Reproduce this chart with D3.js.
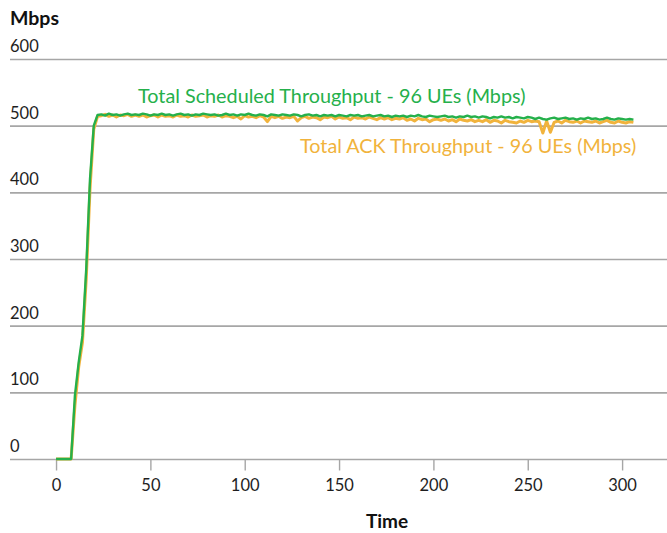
<!DOCTYPE html>
<html>
<head>
<meta charset="utf-8">
<script src="https://cdn.jsdelivr.net/npm/d3@7"></script>
<style>
  html, body { margin: 0; padding: 0; background: #fff; }
  svg { display: block; font-family: Lato, "Open Sans", sans-serif; }
</style>
</head>
<body>
<svg id="chart" width="667" height="533"></svg>
<script>
// ---- data ----
const timeStep = 2;           // seconds between samples (t = 0, 2, 4, ... 306)
const yTicks = [0, 100, 200, 300, 400, 500, 600];
const xTicks = [0, 50, 100, 150, 200, 250, 300];
const seriesNames = ["Total Scheduled Throughput - 96 UEs (Mbps)", "Total ACK Throughput - 96 UEs (Mbps)"];

const scheduled = [
  0, 0, 0, 0, 0, 95, 145, 185, 285, 420, 500, 516,
  517,515,518,516,517,515,517,518,516,517,
  516,518,517,515,517,516,518,516,517,515,
  517,518,516,517,515,517,516,518,517,516,
  517,515,516,518,516,517,515,517,516,518,
  516,515,517,516,514,517,516,515,517,516,
  515,517,516,514,516,517,515,516,514,516,
  515,516,514,516,515,514,516,515,516,514,
  515,516,514,515,516,514,515,513,515,514,
  515,513,515,514,516,514,513,515,514,513,
  514,515,513,514,512,514,513,515,513,514,
  512,514,513,511,513,512,514,512,513,511,
  513,512,511,513,512,510,512,510,509,511,
  512,510,511,512,510,511,509,511,510,512,
  510,511,509,510,512,510,509,511,510,509,
  510,509
];
const ack = [
  0, 0, 0, 0, 0, 80, 138, 175, 270, 405, 495, 514,
  515,517,514,516,513,516,515,517,514,516,
  514,516,513,515,516,513,516,514,515,513,
  516,514,515,513,516,514,515,516,513,515,
  514,516,513,515,514,512,514,510,515,513,
  514,512,515,513,506,514,512,514,511,513,
  512,514,507,512,514,511,513,512,509,513,
  512,514,510,513,511,512,509,513,511,512,
  510,513,511,509,512,510,512,509,511,510,
  512,508,510,507,511,509,510,506,509,510,
  508,510,507,509,506,510,508,507,509,506,
  508,506,509,505,508,507,504,508,506,505,
  504,507,505,508,506,507,506,489,507,490,
  505,507,504,508,506,505,507,504,507,506,
  505,507,504,506,508,505,504,507,505,504,
  506,505
];

// ---- layout ----
const svg = d3.select("#chart");
const x = d3.scaleLinear().domain([-24.4, 323.8]).range([10, 667]);
const y = d3.scaleLinear().domain([0, 600]).range([459, 59]);
const green = "#25b04b", orange = "#f1b33c", grid = "#a6a6a6", txt = "#1e1e1e";

// gridlines + y labels
svg.append("g").selectAll("line").data(yTicks).join("line")
  .attr("x1", 10).attr("x2", 667)
  .attr("y1", d => y(d) + 0.5).attr("y2", d => y(d) + 0.5)
  .attr("stroke", grid).attr("stroke-width", 1.6);
svg.append("g").selectAll("text").data(yTicks).join("text")
  .attr("x", 10).attr("y", d => y(d) - 7)
  .attr("font-size", 16.5).attr("fill", txt)
  .text(d => d);

// x axis ticks + labels
const xAxis = d3.axisBottom(x).tickValues(xTicks).tickSize(11).tickPadding(6).tickFormat(d3.format("d"));
const gx = svg.append("g").attr("transform", "translate(0,459.5)").call(xAxis);
gx.select(".domain").remove();
gx.selectAll(".tick line").attr("stroke", grid).attr("stroke-width", 1.4);
gx.selectAll(".tick text").attr("font-size", 16.5).attr("fill", txt)
  .attr("font-family", "Lato, sans-serif").attr("dy", "0.9em");

// titles
svg.append("text").attr("x", 10).attr("y", 25).attr("font-weight", "bold")
  .attr("font-size", 19.5).attr("fill", "#111").text("Mbps");
svg.append("text").attr("x", 387).attr("y", 528).attr("text-anchor", "middle")
  .attr("font-weight", "bold").attr("font-size", 19).attr("fill", "#111").text("Time");

// lines
const line = d3.line().x((d, i) => x(i * timeStep)).y(d => y(d));
svg.append("path").datum(ack).attr("d", line)
  .attr("fill", "none").attr("stroke", orange).attr("stroke-width", 3)
  .attr("stroke-linejoin", "round");
svg.append("path").datum(scheduled).attr("d", line)
  .attr("fill", "none").attr("stroke", green).attr("stroke-width", 2.4)
  .attr("stroke-linejoin", "round");

// series labels
svg.append("text").attr("x", 138).attr("y", 103).attr("font-size", 19.8)
  .attr("fill", green).text(seriesNames[0]);
svg.append("text").attr("x", 300).attr("y", 153).attr("font-size", 19.8)
  .attr("fill", orange).text(seriesNames[1]);
</script>
</body>
</html>
